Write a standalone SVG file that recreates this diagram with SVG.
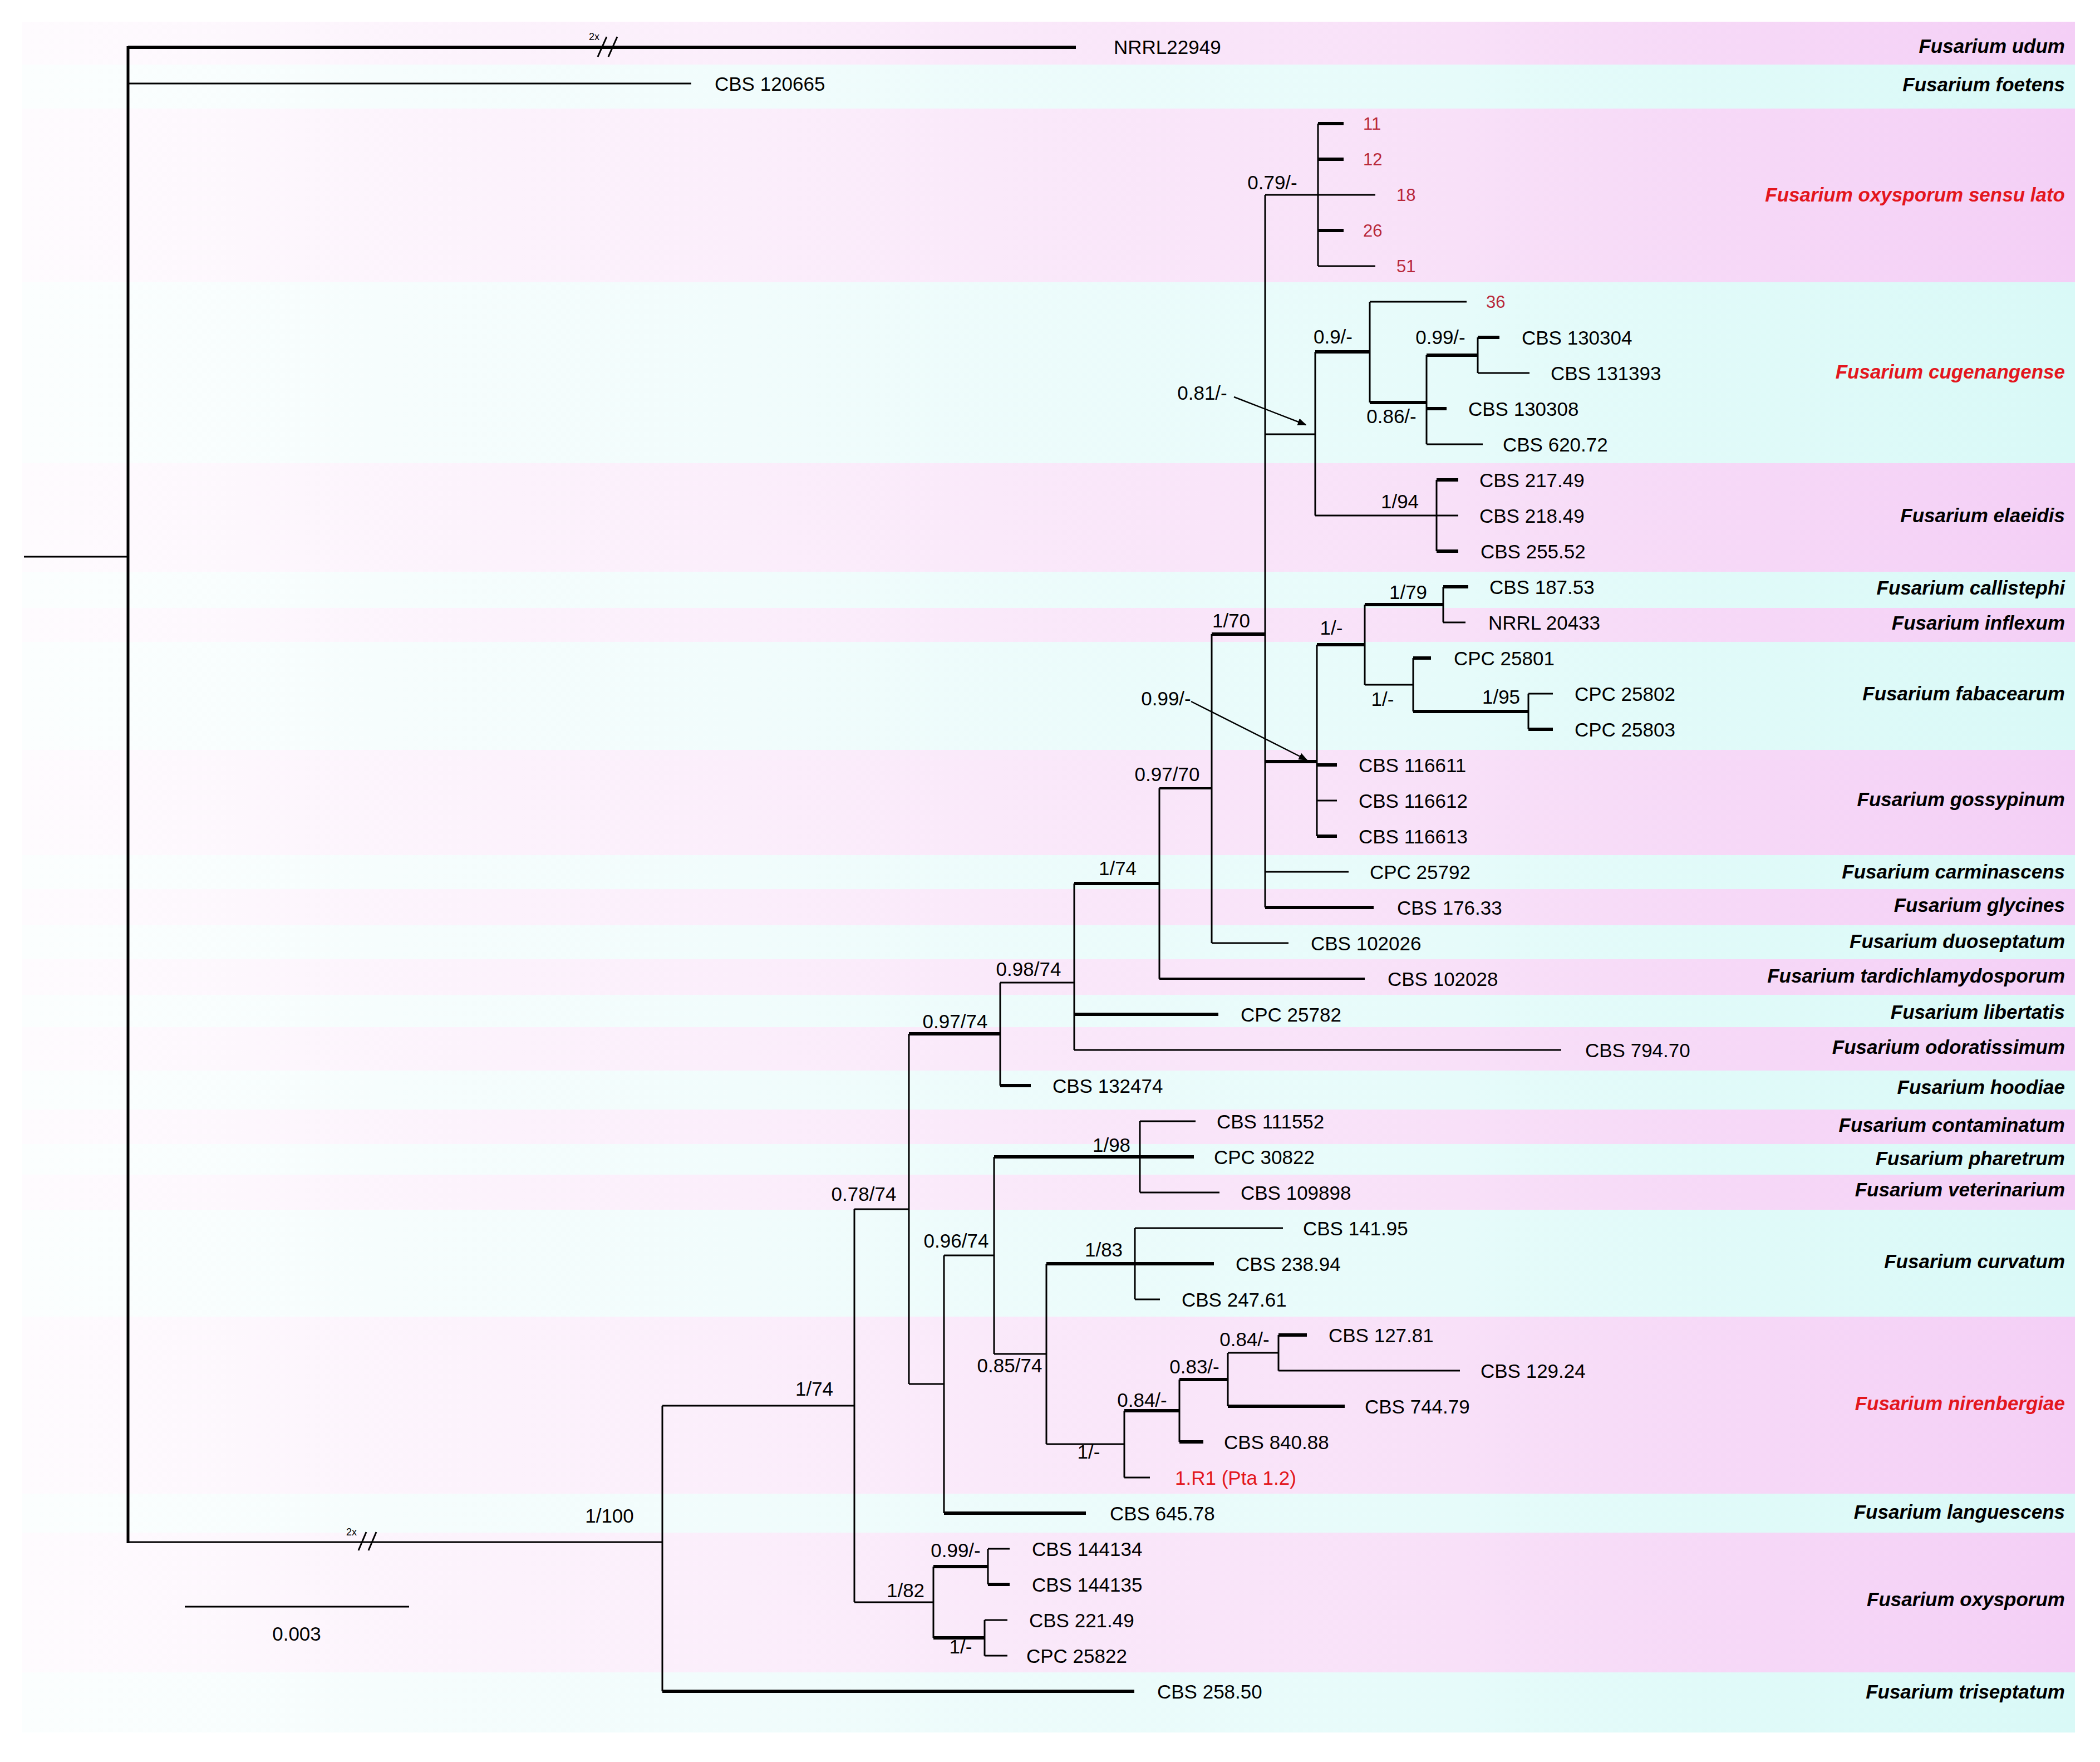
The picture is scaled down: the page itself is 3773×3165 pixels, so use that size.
<svg xmlns="http://www.w3.org/2000/svg" width="3773" height="3165" viewBox="0 0 3773 3165">
<defs>
<linearGradient id="gp" gradientUnits="userSpaceOnUse" x1="40" y1="0" x2="3728" y2="0">
<stop offset="0" stop-color="#fefbfe"/><stop offset="0.35" stop-color="#fbeefb"/><stop offset="0.7" stop-color="#f8e0f8"/><stop offset="1" stop-color="#f4cff6"/>
</linearGradient>
<linearGradient id="gc" gradientUnits="userSpaceOnUse" x1="40" y1="0" x2="3728" y2="0">
<stop offset="0" stop-color="#fbfefe"/><stop offset="0.35" stop-color="#f1fcfc"/><stop offset="0.7" stop-color="#e6fbfa"/><stop offset="1" stop-color="#d9f9f7"/>
</linearGradient>
<marker id="ah" viewBox="0 0 10 10" refX="9" refY="5" markerWidth="16" markerHeight="16" markerUnits="userSpaceOnUse" orient="auto"><path d="M0,1 L10,5 L0,9 z" fill="#000"/></marker>
<style>
.p{fill:url(#gp)}
.c{fill:url(#gc)}
.t{fill:none;stroke:#000;stroke-width:3}
.m{fill:none;stroke:#000;stroke-width:4}
.k{fill:none;stroke:#000;stroke-width:6}
.r{fill:none;stroke:#000;stroke-width:5}
.ar{fill:none;stroke:#000;stroke-width:2.5;marker-end:url(#ah)}
text{font-family:"Liberation Sans",Arial,sans-serif;font-size:35px;fill:#000}
.nl{text-anchor:middle}
.sp{font-weight:bold;font-style:italic;text-anchor:end}
.red{fill:#e3161d}
.dr{fill:#b8283a;font-size:31px}
.sm{font-size:18px}
</style>
</defs>
<rect width="3773" height="3165" fill="#fff"/>
<g id="bands">
<rect class="p" x="40" y="39" width="3688" height="77"/>
<rect class="c" x="40" y="116" width="3688" height="79"/>
<rect class="p" x="40" y="195" width="3688" height="312"/>
<rect class="c" x="40" y="507" width="3688" height="325"/>
<rect class="p" x="40" y="832" width="3688" height="195"/>
<rect class="c" x="40" y="1027" width="3688" height="65"/>
<rect class="p" x="40" y="1092" width="3688" height="61"/>
<rect class="c" x="40" y="1153" width="3688" height="194"/>
<rect class="p" x="40" y="1347" width="3688" height="189"/>
<rect class="c" x="40" y="1536" width="3688" height="61"/>
<rect class="p" x="40" y="1597" width="3688" height="65"/>
<rect class="c" x="40" y="1662" width="3688" height="61"/>
<rect class="p" x="40" y="1723" width="3688" height="64"/>
<rect class="c" x="40" y="1787" width="3688" height="58"/>
<rect class="p" x="40" y="1845" width="3688" height="78"/>
<rect class="c" x="40" y="1923" width="3688" height="70"/>
<rect class="p" x="40" y="1993" width="3688" height="62"/>
<rect class="c" x="40" y="2055" width="3688" height="55"/>
<rect class="p" x="40" y="2110" width="3688" height="63"/>
<rect class="c" x="40" y="2173" width="3688" height="192"/>
<rect class="p" x="40" y="2365" width="3688" height="318"/>
<rect class="c" x="40" y="2683" width="3688" height="70"/>
<rect class="p" x="40" y="2753" width="3688" height="251"/>
<rect class="c" x="40" y="3004" width="3688" height="108"/>
</g>
<g id="connectors">
<path class="r" d="M230 83V2772"/>
<path class="t" d="M43 1000H230 M230 150H1242 M230 2770H1190 M1190 2525V3038 M1190 2525H1535 M1535 2172V2878 M1535 2172H1633 M1633 1857V2486 M1535 2878H1677 M1677 2814V2942 M1775 2782V2846 M1775 2782H1814 M1769 2910V2974 M1769 2910H1810 M1769 2974H1810 M1797 1765V1950 M1797 1765H1930 M1930 1587V1886 M1930 1886H2805 M2083 1416V1758 M2177 1139V1694 M2177 1694H2315 M2273 350V1630 M2273 350H2471 M2368 222V478 M2368 478H2471 M2273 780H2363 M2363 632V926 M2461 542V723 M2461 542H2635 M2563 638V798 M2655 606V670 M2655 670H2748 M2563 798H2664 M2363 926H2581 M2581 862V990 M2581 926H2620 M2366 1158V1502 M2452 1086V1230 M2593 1054V1118 M2593 1118H2633 M2452 1230H2539 M2539 1182V1278 M2746 1246V1310 M2746 1246H2790 M2366 1438H2402 M2273 1566H2423 M1633 2486H1696 M1696 2255V2718 M1696 2255H1786 M1786 2078V2432 M2048 2014V2142 M2048 2014H2148 M2048 2142H2191 M1786 2432H1880 M1880 2270V2594 M2039 2206V2334 M2039 2206H2305 M2039 2334H2084 M1880 2594H2020 M2020 2534V2654 M2020 2654H2066 M2119 2478V2590 M2206 2430V2526 M2206 2430H2297 M2297 2398V2462 M2297 2462H2623"/>
<path class="m" d="M2083 1758H2452 M2083 1416H2177"/>
<path class="k" d="M230 85H1933 M1190 3038H2038 M1677 2814H1775 M1775 2846H1814 M1677 2942H1769 M1633 1857H1797 M1797 1950H1852 M1930 1822H2189 M1930 1587H2083 M2177 1139H2273 M2368 222H2414 M2368 286H2414 M2368 414H2414 M2363 632H2461 M2461 723H2563 M2563 638H2655 M2655 606H2694 M2563 734H2599 M2581 862H2620 M2581 990H2620 M2273 1368H2366 M2366 1158H2452 M2452 1086H2593 M2593 1054H2638 M2539 1182H2571 M2539 1278H2746 M2746 1310H2790 M2366 1374H2402 M2366 1502H2402 M2273 1630H2468 M1696 2718H1951 M1786 2078H2145 M1880 2270H2181 M2020 2534H2119 M2119 2590H2162 M2119 2478H2206 M2206 2526H2416 M2297 2398H2348"/>
<path class="t" d="M1074 102L1090 66 M1093 102L1109 66 M644 2785L658 2752 M662 2785L676 2752"/>
<path class="ar" d="M2217 713L2346 763"/>
<path class="ar" d="M2140 1260L2348 1365"/>
</g>
<g id="breaks">
<text class="sm" x="1058" y="72">2x</text>
<text class="sm" x="622" y="2758">2x</text>
</g>
<g id="scale">
<path class="t" d="M332 2886H735"/>
<text class="nl" x="533" y="2947">0.003</text>
</g>
<g id="support">
<text class="nl" x="1095" y="2735">1/100</text>
<text class="nl" x="1463" y="2507">1/74</text>
<text class="nl" x="1552" y="2157">0.78/74</text>
<text class="nl" x="1716" y="1847">0.97/74</text>
<text class="nl" x="1848" y="1753">0.98/74</text>
<text class="nl" x="2008" y="1572">1/74</text>
<text class="nl" x="2097" y="1403">0.97/70</text>
<text class="nl" x="2212" y="1127">1/70</text>
<text class="nl" x="2286" y="340">0.79/-</text>
<text class="nl" x="2160" y="718">0.81/-</text>
<text class="nl" x="2395" y="617">0.9/-</text>
<text class="nl" x="2500" y="760">0.86/-</text>
<text class="nl" x="2588" y="618">0.99/-</text>
<text class="nl" x="2515" y="913">1/94</text>
<text class="nl" x="2095" y="1267">0.99/-</text>
<text class="nl" x="2392" y="1140">1/-</text>
<text class="nl" x="2530" y="1076">1/79</text>
<text class="nl" x="2484" y="1268">1/-</text>
<text class="nl" x="2697" y="1264">1/95</text>
<text class="nl" x="1718" y="2241">0.96/74</text>
<text class="nl" x="1997" y="2069">1/98</text>
<text class="nl" x="1814" y="2465">0.85/74</text>
<text class="nl" x="1983" y="2257">1/83</text>
<text class="nl" x="1956" y="2620">1/-</text>
<text class="nl" x="2052" y="2527">0.84/-</text>
<text class="nl" x="2146" y="2467">0.83/-</text>
<text class="nl" x="2236" y="2418">0.84/-</text>
<text class="nl" x="1627" y="2869">1/82</text>
<text class="nl" x="1717" y="2797">0.99/-</text>
<text class="nl" x="1726" y="2970">1/-</text>
</g>
<g id="tips">
<g id="tip-NRRL22949"><text x="2001" y="97">NRRL22949</text></g>
<g id="tip-CBS120665"><text x="1284" y="163">CBS 120665</text></g>
<g id="tip-11"><text class="dr" x="2449" y="233">11</text></g>
<g id="tip-12"><text class="dr" x="2449" y="297">12</text></g>
<g id="tip-18"><text class="dr" x="2509" y="361">18</text></g>
<g id="tip-26"><text class="dr" x="2449" y="425">26</text></g>
<g id="tip-51"><text class="dr" x="2509" y="489">51</text></g>
<g id="tip-36"><text class="dr" x="2670" y="553">36</text></g>
<g id="tip-CBS130304"><text x="2734" y="619">CBS 130304</text></g>
<g id="tip-CBS131393"><text x="2786" y="683">CBS 131393</text></g>
<g id="tip-CBS130308"><text x="2638" y="747">CBS 130308</text></g>
<g id="tip-CBS62072"><text x="2700" y="811">CBS 620.72</text></g>
<g id="tip-CBS21749"><text x="2658" y="875">CBS 217.49</text></g>
<g id="tip-CBS21849"><text x="2658" y="939">CBS 218.49</text></g>
<g id="tip-CBS25552"><text x="2660" y="1003">CBS 255.52</text></g>
<g id="tip-CBS18753"><text x="2676" y="1067">CBS 187.53</text></g>
<g id="tip-NRRL20433"><text x="2674" y="1131">NRRL 20433</text></g>
<g id="tip-CPC25801"><text x="2612" y="1195">CPC 25801</text></g>
<g id="tip-CPC25802"><text x="2829" y="1259">CPC 25802</text></g>
<g id="tip-CPC25803"><text x="2829" y="1323">CPC 25803</text></g>
<g id="tip-CBS116611"><text x="2441" y="1387">CBS 116611</text></g>
<g id="tip-CBS116612"><text x="2441" y="1451">CBS 116612</text></g>
<g id="tip-CBS116613"><text x="2441" y="1515">CBS 116613</text></g>
<g id="tip-CPC25792"><text x="2461" y="1579">CPC 25792</text></g>
<g id="tip-CBS17633"><text x="2510" y="1643">CBS 176.33</text></g>
<g id="tip-CBS102026"><text x="2355" y="1707">CBS 102026</text></g>
<g id="tip-CBS102028"><text x="2493" y="1771">CBS 102028</text></g>
<g id="tip-CPC25782"><text x="2229" y="1835">CPC 25782</text></g>
<g id="tip-CBS79470"><text x="2848" y="1899">CBS 794.70</text></g>
<g id="tip-CBS132474"><text x="1891" y="1963">CBS 132474</text></g>
<g id="tip-CBS111552"><text x="2186" y="2027">CBS 111552</text></g>
<g id="tip-CPC30822"><text x="2181" y="2091">CPC 30822</text></g>
<g id="tip-CBS109898"><text x="2229" y="2155">CBS 109898</text></g>
<g id="tip-CBS14195"><text x="2341" y="2219">CBS 141.95</text></g>
<g id="tip-CBS23894"><text x="2220" y="2283">CBS 238.94</text></g>
<g id="tip-CBS24761"><text x="2123" y="2347">CBS 247.61</text></g>
<g id="tip-CBS12781"><text x="2387" y="2411">CBS 127.81</text></g>
<g id="tip-CBS12924"><text x="2660" y="2475">CBS 129.24</text></g>
<g id="tip-CBS74479"><text x="2452" y="2539">CBS 744.79</text></g>
<g id="tip-CBS84088"><text x="2199" y="2603">CBS 840.88</text></g>
<g id="tip-1R1"><text class="red" x="2111" y="2667">1.R1 (Pta 1.2)</text></g>
<g id="tip-CBS64578"><text x="1994" y="2731">CBS 645.78</text></g>
<g id="tip-CBS144134"><text x="1854" y="2795">CBS 144134</text></g>
<g id="tip-CBS144135"><text x="1854" y="2859">CBS 144135</text></g>
<g id="tip-CBS22149"><text x="1849" y="2923">CBS 221.49</text></g>
<g id="tip-CPC25822"><text x="1844" y="2987">CPC 25822</text></g>
<g id="tip-CBS25850"><text x="2079" y="3051">CBS 258.50</text></g>
</g>
<g id="species">
<g id="sp-udum"><text class="sp" x="3710" y="95">Fusarium udum</text></g>
<g id="sp-foetens"><text class="sp" x="3710" y="164">Fusarium foetens</text></g>
<g id="sp-osl"><text class="sp red" x="3710" y="362">Fusarium oxysporum sensu lato</text></g>
<g id="sp-cugenangense"><text class="sp red" x="3710" y="680">Fusarium cugenangense</text></g>
<g id="sp-elaeidis"><text class="sp" x="3710" y="938">Fusarium elaeidis</text></g>
<g id="sp-callistephi"><text class="sp" x="3710" y="1068">Fusarium callistephi</text></g>
<g id="sp-inflexum"><text class="sp" x="3710" y="1131">Fusarium inflexum</text></g>
<g id="sp-fabacearum"><text class="sp" x="3710" y="1258">Fusarium fabacearum</text></g>
<g id="sp-gossypinum"><text class="sp" x="3710" y="1448">Fusarium gossypinum</text></g>
<g id="sp-carminascens"><text class="sp" x="3710" y="1578">Fusarium carminascens</text></g>
<g id="sp-glycines"><text class="sp" x="3710" y="1638">Fusarium glycines</text></g>
<g id="sp-duoseptatum"><text class="sp" x="3710" y="1703">Fusarium duoseptatum</text></g>
<g id="sp-tardichlamydosporum"><text class="sp" x="3710" y="1765">Fusarium tardichlamydosporum</text></g>
<g id="sp-libertatis"><text class="sp" x="3710" y="1830">Fusarium libertatis</text></g>
<g id="sp-odoratissimum"><text class="sp" x="3710" y="1893">Fusarium odoratissimum</text></g>
<g id="sp-hoodiae"><text class="sp" x="3710" y="1965">Fusarium hoodiae</text></g>
<g id="sp-contaminatum"><text class="sp" x="3710" y="2033">Fusarium contaminatum</text></g>
<g id="sp-pharetrum"><text class="sp" x="3710" y="2093">Fusarium pharetrum</text></g>
<g id="sp-veterinarium"><text class="sp" x="3710" y="2149">Fusarium veterinarium</text></g>
<g id="sp-curvatum"><text class="sp" x="3710" y="2278">Fusarium curvatum</text></g>
<g id="sp-nirenbergiae"><text class="sp red" x="3710" y="2533">Fusarium nirenbergiae</text></g>
<g id="sp-languescens"><text class="sp" x="3710" y="2728">Fusarium languescens</text></g>
<g id="sp-oxysporum"><text class="sp" x="3710" y="2885">Fusarium oxysporum</text></g>
<g id="sp-triseptatum"><text class="sp" x="3710" y="3051">Fusarium triseptatum</text></g>
</g>
</svg>
